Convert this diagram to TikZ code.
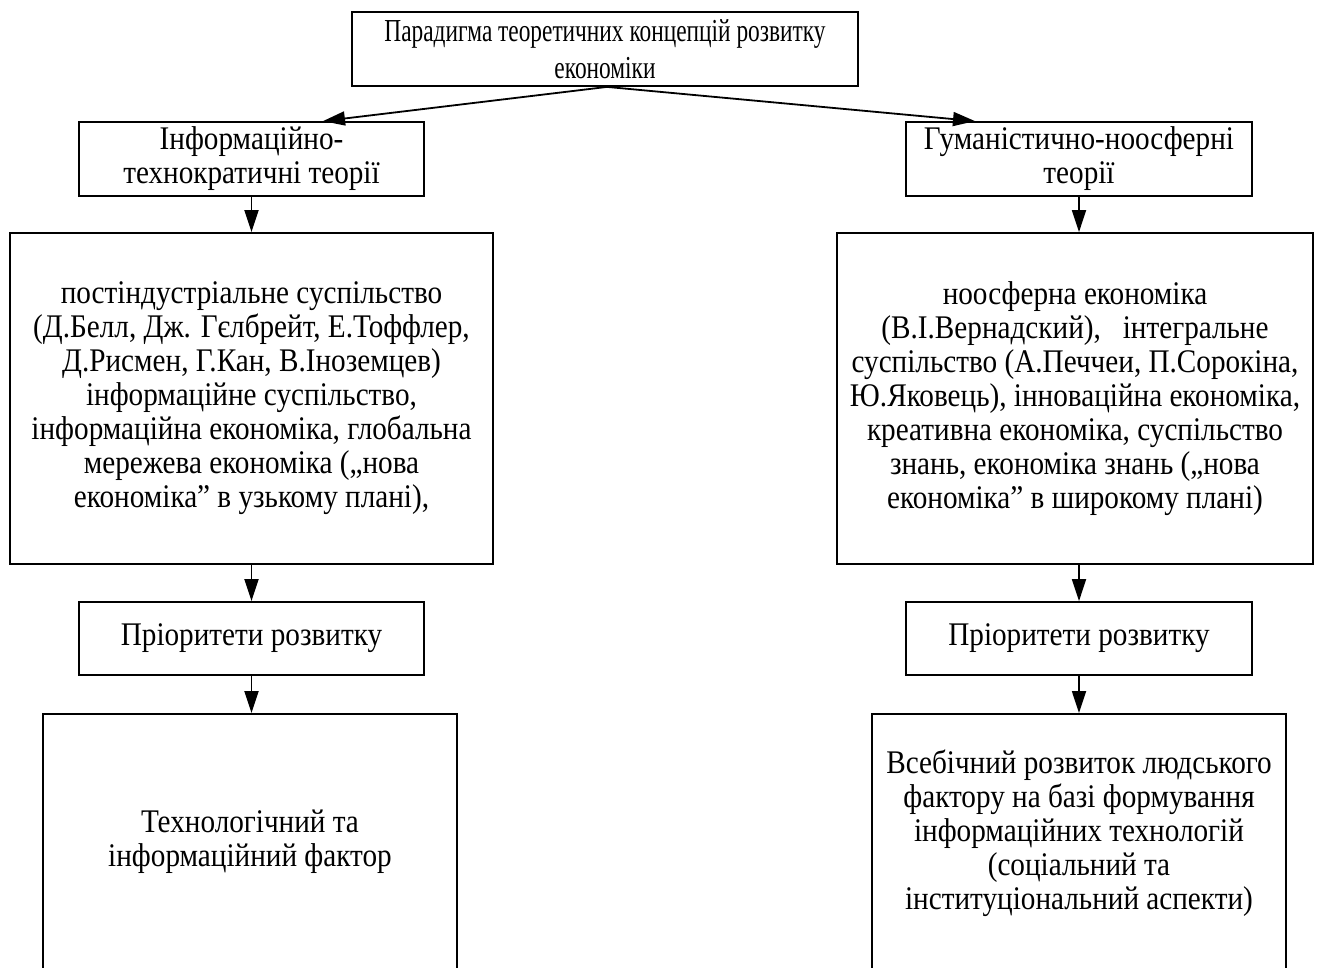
\documentclass[tikz,border=0pt]{standalone}
\usepackage{fontspec}
\setmainfont{Liberation Serif}[FakeStretch=0.885]
\newfontfamily\topfont{Liberation Serif}[FakeStretch=0.73]
\usetikzlibrary{arrows.meta,positioning,calc}
\tikzset{
  box/.style={draw=black, line width=1.8pt, inner sep=0pt, align=center, fill=white},
  txt/.style={inner sep=0pt, align=center},
  arr/.style={draw=black, line width=1.8pt, -{Triangle[length=22pt,width=14pt]}},
}
\begin{document}
\begin{tikzpicture}[x=1pt,y=-1pt, font=\fontsize{33}{34}\selectfont]
\useasboundingbox (0,0) rectangle (1323,967);
\clip (0,0) rectangle (1323,967);
% top
\node[box, minimum width=506pt, minimum height=74pt, font=\topfont\fontsize{32}{36.5}\selectfont] (top) at (605,49)
  {Парадигма теоретичних концепцій розвитку\\економіки};
% level 2
\node[box, minimum width=345pt, minimum height=74pt] (l2) at (251.5,159)
  {Інформаційно-\\технократичні теорії};
\node[box, minimum width=346pt, minimum height=74pt] (r2) at (1079,159)
  {Гуманістично-ноосферні\\теорії};
% level 3
\node[box, minimum width=483pt, minimum height=331pt] (l3) at (251.5,398.5)
  {постіндустріальне суспільство\\(Д.Белл, Дж. Гєлбрейт, Е.Тоффлер,\\Д.Рисмен, Г.Кан, В.Іноземцев)\\інформаційне суспільство,\\інформаційна економіка, глобальна\\мережева економіка („нова\\економіка” в узькому плані),};
\node[box, minimum width=476pt, minimum height=331pt] (r3) at (1075,398.5)
  {ноосферна економіка\\(В.І.Вернадский),\ \ \ інтегральне\\суспільство (А.Печчеи, П.Сорокіна,\\Ю.Яковець), інноваційна економіка,\\креативна економіка, суспільство\\знань, економіка знань („нова\\економіка” в широкому плані)};
% priorities
\node[box, minimum width=345pt, minimum height=73pt] (lp) at (251.5,638.5) {Пріоритети розвитку};
\node[box, minimum width=346pt, minimum height=73pt] (rp) at (1079,638.5) {Пріоритети розвитку};
% bottom boxes (cut by the lower edge)
\node[box, minimum width=414pt, minimum height=300pt, anchor=north] (lb) at (250,713) {};
\node[box, minimum width=414pt, minimum height=300pt, anchor=north] (rb) at (1079,713) {};
\node[txt] (lbt) at (250,842) {Технологічний та\\інформаційний фактор};
\node[txt] (rbt) at (1079,833) {Всебічний розвиток людського\\фактору на базі формування\\інформаційних технологій\\(соціальний та\\інституціональний аспекти)};
% connectors
\coordinate (l2in) at ([xshift=71.5pt]l2.north);
\coordinate (r2in) at ([xshift=-104pt]r2.north);
\draw[arr] ([xshift=2pt]top.south) -- (l2in);
\draw[arr] ([xshift=2pt]top.south) -- (r2in);
\draw[arr] (l2.south) -- (l2.south |- l3.north);
\draw[arr] (r2.south) -- (r2.south |- r3.north);
\draw[arr] (l3.south) -- (l3.south |- lp.north);
\draw[arr] (r2.south |- r3.south) -- (rp.north);
\draw[arr] (lp.south) -- (lp.south |- lb.north);
\draw[arr] (rp.south) -- (rp.south |- rb.north);
\end{tikzpicture}
\end{document}
